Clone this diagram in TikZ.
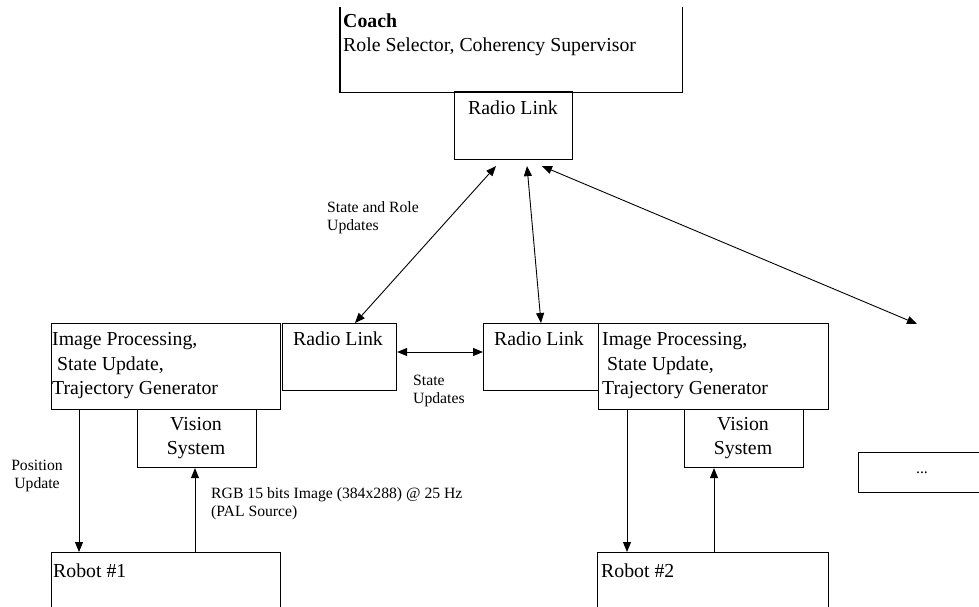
\documentclass[tikz,border=0pt]{standalone}
\usepackage{fontspec}
\setmainfont{Liberation Serif}
\usetikzlibrary{arrows.meta}
\begin{document}
\begin{tikzpicture}[x=1pt,y=-1pt,
  box/.style={draw, line width=1.1pt, rectangle, inner sep=0pt, anchor=north west},
  big/.style={font=\fontsize{19.8}{24}\selectfont, anchor=base west, inner sep=0pt},
  bigc/.style={font=\fontsize{19.8}{24}\selectfont, anchor=base, inner sep=0pt},
  small/.style={font=\fontsize{15.7}{18}\selectfont, anchor=base west, inner sep=0pt},
  smallc/.style={font=\fontsize{15.7}{18}\selectfont, anchor=base, inner sep=0pt},
  conn/.style={line width=0.9pt, -{Triangle[length=10pt,width=8pt]}},
  dconn/.style={line width=0.9pt, {Triangle[length=10pt,width=8pt]}-{Triangle[length=10pt,width=8pt]}}]
\useasboundingbox (0,0) rectangle (979,607);
\clip (0,0) rectangle (979,607);

% boxes
\node[box, draw=none, minimum width=341pt, minimum height=84pt] (coach) at (340,7) {};
\draw[line width=1.1pt] (coach.north west) -- (coach.south west) -- (coach.south east) -- (coach.north east);
\node[box, minimum width=118pt, minimum height=68pt] (trl) at (454,91) {};
\node[box, minimum width=229pt, minimum height=86pt] (lip) at (51,323) {};
\node[box, minimum width=114pt, minimum height=67pt] (lrl) at (282,323) {};
\node[box, minimum width=119pt, minimum height=58pt] (lvs) at (137,409) {};
\node[box, minimum width=229pt, minimum height=80pt] (r1) at (51,552) {};
\node[box, minimum width=115pt, minimum height=67pt] (rrl) at (483,323) {};
\node[box, minimum width=230pt, minimum height=86pt] (rip) at (598,323) {};
\node[box, minimum width=119pt, minimum height=58pt] (rvs) at (684,409) {};
\node[box, minimum width=231pt, minimum height=80pt] (r2) at (597,552) {};
\node[box, minimum width=140pt, minimum height=40pt] (more) at (858,452) {};

% texts
\node[big, font=\fontsize{19.8}{24}\selectfont\bfseries] (tcoach) at (343,28) {Coach};
\node[big] (trole) at (343,52) {Role Selector, Coherency Supervisor};
\node[big] (ttrl) at (468,115) {Radio Link};

\node[big] (tlip1) at (52,345) {Image Processing,};
\node[big] (tlip2) at (57,370) {State Update,};
\node[big] (tlip3) at (52,394) {Trajectory Generator};
\node[big] (tlrl) at (293,345) {Radio Link};
\node[bigc] (tlvs1) at (196,430) {Vision};
\node[bigc] (tlvs2) at (196,454) {System};
\node[big] (tr1) at (53,577) {Robot \#1};

\node[big] (trrl) at (494,345) {Radio Link};
\node[big] (trip1) at (602,345) {Image Processing,};
\node[big] (trip2) at (607,370) {State Update,};
\node[big] (trip3) at (602,394) {Trajectory Generator};
\node[bigc] (trvs1) at (743,430) {Vision};
\node[bigc] (trvs2) at (743,454) {System};
\node[big] (tr2) at (601,577) {Robot \#2};

\node[smallc] (tmore) at (922,473) {...};

\node[small] (lsr1) at (327,212) {State and Role};
\node[small] (lsr2) at (327,230) {Updates};
\node[small] (lsu1) at (413,385) {State};
\node[small] (lsu2) at (413,403) {Updates};
\node[smallc] (lpu1) at (37,470) {Position};
\node[smallc] (lpu2) at (37,488) {Update};
\node[small] (lrgb1) at (211,498) {RGB 15 bits Image (384x288) @ 25 Hz};
\node[small] (lrgb2) at (211,516) {(PAL Source)};

% connectors
\coordinate (e3) at (917,324);
\draw[dconn] ([shift={(42,6)}]trl.south west) -- ([xshift=73pt]lrl.north west);
\draw[dconn] ([shift={(73,6)}]trl.south west) -- ([xshift=58pt]rrl.north west);
\draw[dconn] ([shift={(88,6)}]trl.south west) -- (e3);
\draw[dconn] ([yshift=-29pt]lrl.north east) -- ([yshift=-29pt]rrl.north west);
\draw[conn] ([xshift=28pt]lip.south west) -- ([xshift=28pt]r1.north west);
\draw[conn] ([xshift=144pt]r1.north west) -- ([xshift=58pt]lvs.south west);
\draw[conn] ([xshift=29pt]rip.south west) -- ([xshift=30pt]r2.north west);
\draw[conn] ([xshift=117pt]r2.north west) -- ([xshift=30pt]rvs.south west);
\end{tikzpicture}
\end{document}
